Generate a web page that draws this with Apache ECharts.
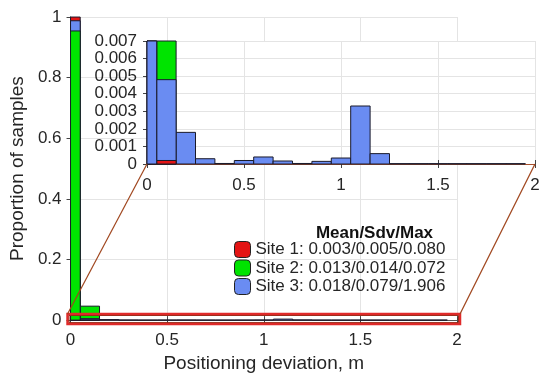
<!DOCTYPE html>
<html>
<head>
<meta charset="utf-8">
<script src="https://cdn.jsdelivr.net/npm/echarts@6/dist/echarts.min.js"></script>
<style>html,body{margin:0;padding:0;background:#fff}#c{width:550px;height:378px}</style>
</head>
<body>
<div id="c"></div>
<script>
// ---- data ----
const bins = [0, 0.1, 0.2, 0.3, 0.4, 0.5, 0.6, 0.7, 0.8, 0.9, 1.0, 1.1, 1.2, 1.3, 1.4, 1.5, 1.6, 1.7, 1.8, 1.9];
const binWidth = 0.1;
const site1 = [0.9998, 0.0002, 0, 0, 0, 0, 0, 0, 0, 0, 0, 0, 0, 0, 0, 0, 0, 0, 0, 0];
const site2 = [0.954, 0.046, 0, 0, 0, 0, 0, 0, 0, 0, 0, 0, 0, 0, 0, 0, 0, 0, 0, 0];
const site3 = [0.9876, 0.0048, 0.0018, 0.0003, 0.00003, 0.0002, 0.0004, 0.00017, 0.00003, 0.00015, 0.00034, 0.0033, 0.00059, 0.00002, 0.00002, 0.00002, 0.00002, 0.00002, 0.00002, 0.00002];
const siteNames = ['Site 1', 'Site 2', 'Site 3'];
const siteStats = ['0.003/0.005/0.080', '0.013/0.014/0.072', '0.018/0.079/1.906'];
const legendTitle = 'Mean/Sdv/Max';
const xName = 'Positioning deviation, m';
const yName = 'Proportion of samples';
const mainX = {min: 0, max: 2, interval: 0.5};
const mainY = {min: 0, max: 1, interval: 0.2};
const insetX = {min: 0, max: 2, interval: 0.5};
const insetY = {min: 0, max: 0.007, interval: 0.001};

// ---- style ----
const colors = ['#e41414', '#00e400', '#6a8cf2'];
const tiePriority = [1, 0, 2]; // back-to-front when heights tie
const FONT = '"Liberation Sans", Arial, sans-serif';
const txt = '#262626';
const sites = [site1, site2, site3];

const chart = echarts.init(document.getElementById('c'), null, {renderer: 'canvas'});

function zOrder(i, cap) {
  const vals = sites.map(s => Math.min(s[i], cap));
  const idx = [0, 1, 2].sort((a, b) => (vals[b] - vals[a]) || (tiePriority[a] - tiePriority[b]));
  const z = [];
  idx.forEach((s, k) => { z[s] = 10 + k; });
  return z;
}

function makeRender(siteIdx, cap) {
  return function (params, api) {
    const c = api.value(0), v = api.value(1);
    if (!(v > 0)) return null;
    const p0 = api.coord([c - binWidth / 2, Math.min(v, cap)]);
    const p1 = api.coord([c + binWidth / 2, 0]);
    const cs = params.coordSys;
    const r = echarts.graphic.clipRectByRect(
      {x: p0[0], y: p0[1], width: p1[0] - p0[0], height: p1[1] - p0[1]},
      {x: cs.x, y: cs.y, width: cs.width, height: cs.height + 0.5});
    if (!r) return null;
    return {
      type: 'rect', shape: r,
      z2: zOrder(params.dataIndex, cap)[siteIdx],
      style: {fill: colors[siteIdx], stroke: '#1a1a2a', lineWidth: 1}
    };
  };
}

const series = [];
[[0, mainY.max], [1, insetY.max]].forEach(([g, cap]) => {
  sites.forEach((s, k) => {
    series.push({
      type: 'custom', name: siteNames[k],
      xAxisIndex: g * 2, yAxisIndex: g * 2,
      z: g === 0 ? 2 : 6,
      itemStyle: {color: colors[k]},
      renderItem: makeRender(k, cap),
      encode: {x: 0, y: 1},
      data: bins.map((b, i) => [b, s[i]])
    });
  });
});

function axisPair(cfg, grid, isX, lineColor, z, primary) {
  const lbl = {fontFamily: FONT, fontSize: 17, color: txt};
  const a = {
    type: 'value', gridIndex: grid, min: cfg.min, max: cfg.max, interval: cfg.interval, z: z,
    axisLine: {show: true, lineStyle: {color: lineColor, width: 1}},
    axisTick: {show: true, inside: true, length: 4, lineStyle: {color: '#444'}},
    splitLine: {show: false},
    axisLabel: {show: false}
  };
  if (primary) {
    a.splitLine = {show: true, lineStyle: {color: '#e4e4e4', width: 1}};
    a.axisLabel = Object.assign({show: true, showMaxLabel: true, showMinLabel: true,
      formatter: v => String(+v.toFixed(3))}, lbl);
  }
  return a;
}

const xAxes = [], yAxes = [];
// main
const mx = axisPair(mainX, 0, true, '#555', 1, true);
mx.position = 'bottom'; mx.axisLabel.margin = 12;
mx.name = xName; mx.nameLocation = 'middle'; mx.nameGap = 30;
mx.nameTextStyle = {fontFamily: FONT, fontSize: 19, color: txt};
const mxt = axisPair(mainX, 0, true, '#555', 1, false); mxt.position = 'top';
const my = axisPair(mainY, 0, false, '#555', 1, true);
my.position = 'left'; my.axisLabel.margin = 9;
my.name = yName; my.nameLocation = 'middle'; my.nameGap = 38;
my.nameTextStyle = {fontFamily: FONT, fontSize: 19, color: txt};
const myr = axisPair(mainY, 0, false, '#555', 1, false); myr.position = 'right';
// inset
const ix = axisPair(insetX, 1, true, '#a8502c', 5, true);
ix.position = 'bottom'; ix.axisLabel.margin = 13;
const ixt = axisPair(insetX, 1, true, '#a8502c', 5, false); ixt.position = 'top';
const iy = axisPair(insetY, 1, false, '#a8502c', 5, true);
iy.position = 'left'; iy.axisLabel.margin = 10;
const iyr = axisPair(insetY, 1, false, '#a8502c', 5, false); iyr.position = 'right';
xAxes.push(mx, mxt, ix, ixt);
yAxes.push(my, myr, iy, iyr);

chart.setOption({
  animation: false,
  backgroundColor: '#fff',
  grid: [
    {left: 69, top: 17, width: 388, height: 305, containLabel: false, z: 0},
    {left: 147, top: 41, width: 388, height: 123, containLabel: false, show: true,
     backgroundColor: '#fff', borderWidth: 0, z: 4}
  ],
  xAxis: xAxes,
  yAxis: yAxes,
  legend: {
    orient: 'vertical', left: 234, top: 241, padding: 0, itemGap: 1.5,
    itemWidth: 16, itemHeight: 16, icon: 'roundRect', selectedMode: false,
    data: siteNames,
    itemStyle: {borderColor: '#222', borderWidth: 1},
    textStyle: {fontFamily: FONT, fontSize: 17, color: txt, lineHeight: 17},
    formatter: name => name + ': ' + siteStats[siteNames.indexOf(name)],
    z: 8
  },
  series: series
});

// annotation: zoom rectangle, connectors, legend heading
const tl = chart.convertToPixel({gridIndex: 0}, [mainX.min, insetY.max]);
const br = chart.convertToPixel({gridIndex: 0}, [mainX.max, 0]);
const ibl = chart.convertToPixel({gridIndex: 1}, [insetX.min, 0]);
const ibr = chart.convertToPixel({gridIndex: 1}, [insetX.max, 0]);
const rx = tl[0] - 3, ry = tl[1] - 4, rw = br[0] - tl[0] + 6, rh = br[1] - tl[1] + 8;
chart.setOption({
  graphic: [
    {type: 'rect', z: 10, shape: {x: rx, y: ry, width: rw, height: rh},
     style: {fill: 'none', stroke: '#e02a2a', lineWidth: 2.5}},
    {type: 'rect', z: 11, shape: {x: rx + 1.5, y: ry + 1.5, width: rw - 3, height: rh - 3},
     style: {fill: 'none', stroke: '#9a2a18', lineWidth: 1}},
    {type: 'line', z: 10, shape: {x1: rx, y1: ry, x2: ibl[0], y2: ibl[1]},
     style: {stroke: '#a0461e', lineWidth: 1.2}},
    {type: 'line', z: 10, shape: {x1: rx + rw, y1: ry, x2: ibr[0], y2: ibr[1]},
     style: {stroke: '#a0461e', lineWidth: 1.2}},
    {type: 'text', z: 12, x: 374.5, y: 233,
     style: {text: legendTitle, fontFamily: FONT, fontSize: 17, fontWeight: 'bold', fill: '#111',
             align: 'center', verticalAlign: 'middle'}}
  ]
});
</script>
</body>
</html>
